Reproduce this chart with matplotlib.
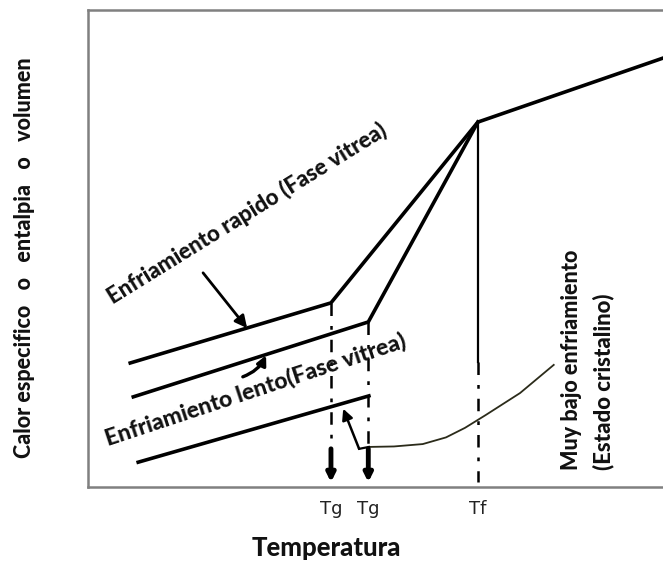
import matplotlib.pyplot as plt

# temperature / property values in arbitrary units (0-100 on both axes)
tg_fast = 39.7
tg_slow = 45.8
t_fusion = 63.7

liquid_x = [t_fusion, 100.0]
liquid_y = [76.5, 92.6]

fast_x = [6.9, tg_fast, t_fusion]
fast_y = [26.0, 38.6, 76.5]

slow_x = [7.4, tg_slow, t_fusion]
slow_y = [18.9, 34.6, 76.5]

low_x = [8.2, 45.9]
low_y = [5.2, 19.1]

crystal_x = [44.3, 45.9, 50.0, 54.7, 58.5, 61.6, 65.0, 70.6, 76.1]
crystal_y = [8.0, 8.4, 8.5, 9.0, 10.4, 12.4, 15.1, 19.7, 25.6]

tick_pos = [tg_fast, tg_slow, t_fusion]
tick_labels = ["Tg", "Tg", "Tf"]

W, H = 663, 565
fig = plt.figure(figsize=(W / 100, H / 100), dpi=100)
ax = fig.add_axes([88 / W, 78 / H, 612 / W, 477 / H])
ax.set_xlim(0, 100)
ax.set_ylim(0, 100)

bold = dict(family="Lato", fontweight="black", color="#111111")

for s in ax.spines.values():
    s.set_color("#808080")
    s.set_linewidth(1.8)

lw = 2.6
ax.plot(liquid_x, liquid_y, color="black", lw=lw, solid_capstyle="butt")
ax.plot(fast_x, fast_y, color="black", lw=lw, solid_joinstyle="miter")
ax.plot(slow_x, slow_y, color="black", lw=lw, solid_joinstyle="miter")
ax.plot(low_x, low_y, color="black", lw=lw)
ax.plot(crystal_x[1:], crystal_y[1:], color="#2b2b1a", lw=1.3)
ax.plot(crystal_x[:2], crystal_y[:2], color="black", lw=1.6)

# arrow from the crystalline curve up to the lower glass line
ax.annotate("", xy=(41.7, 16.4), xytext=(crystal_x[0], crystal_y[0]),
            arrowprops=dict(arrowstyle="-|>", color="black", lw=1.8,
                            mutation_scale=16, shrinkA=0, shrinkB=0))

# glass transition markers
dash = (0, (5, 4, 1.5, 4))
for tg, y0 in [(tg_fast, fast_y[1]), (tg_slow, slow_y[1])]:
    ax.plot([tg, tg], [y0, 7.7], color="black", lw=1.8, linestyle=dash)
    ax.annotate("", xy=(tg, 1.0), xytext=(tg, 8.0),
                arrowprops=dict(arrowstyle="-|>", color="black", lw=3.5,
                                mutation_scale=12, shrinkA=0, shrinkB=0))

# fusion temperature marker
ax.plot([t_fusion, t_fusion], [liquid_y[0], 26.2], color="black", lw=1.6)
ax.plot([t_fusion, t_fusion], [26.2, 1.0], color="black", lw=1.8, linestyle=dash)

# pointers to the two glass lines
ax.annotate("", xy=(26.0, 33.3), xytext=(18.8, 44.9),
            arrowprops=dict(arrowstyle="-|>", color="black", lw=2.0,
                            mutation_scale=18, shrinkA=0, shrinkB=0))
ax.annotate("", xy=(29.1, 27.6), xytext=(25.3, 23.1),
            arrowprops=dict(arrowstyle="-|>", color="black", lw=2.4,
                            mutation_scale=14, shrinkA=0, shrinkB=0,
                            connectionstyle="arc3,rad=0.2"))

ax.text(26.0, 57.4, "Enfriamiento rapido (Fase vitrea)", rotation=31.7,
        rotation_mode="anchor", ha="center", va="center", fontsize=16, **bold)
ax.text(27.3, 20.5, "Enfriamiento lento(Fase vitrea)", rotation=18.3,
        rotation_mode="anchor", ha="center", va="center", fontsize=16.5, **bold)
ax.text(79.0, 3.5, "Muy bajo enfriamiento", rotation=90,
        ha="center", va="bottom", fontsize=15.5, **bold)
ax.text(84.2, 3.5, "(Estado cristalino)", rotation=90,
        ha="center", va="bottom", fontsize=16, **bold)

ax.set_xticks(tick_pos)
ax.set_xticklabels(tick_labels, family="DejaVu Sans", fontsize=13, color="#222222")
ax.tick_params(axis="x", length=0, pad=9)
ax.set_yticks([])

fig.text(326 / W, 1 - 548 / H, "Temperatura", ha="center", va="center",
         fontsize=18.5, **bold)
fig.text(25 / W, 1 - 258 / H, "Calor especifico   o   entalpia   o   volumen",
         rotation=90, ha="center", va="center", fontsize=15.5, **bold)

fig.savefig("out.png", dpi=100, facecolor="white")
